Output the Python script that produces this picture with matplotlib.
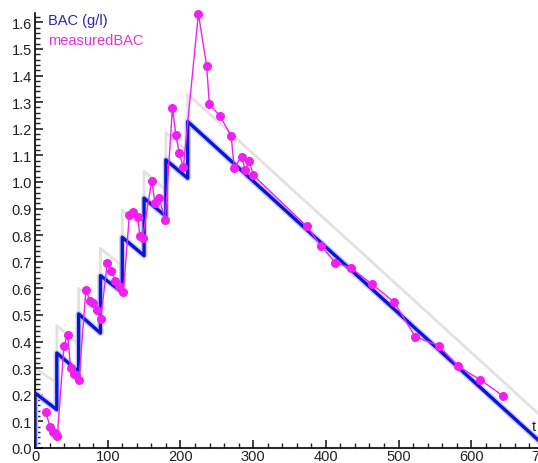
import matplotlib
matplotlib.use("Agg")
import matplotlib.pyplot as plt
from matplotlib.ticker import MultipleLocator

# --- data ---
bac_t = [0, 0, 30, 30, 60, 60, 90, 90, 120, 120, 150, 150, 180, 180, 210, 210, 700]
bac_y = [0, 0.207, 0.144, 0.357, 0.287, 0.504, 0.432, 0.648, 0.585, 0.792,
         0.723, 0.939, 0.871, 1.083, 1.014, 1.227, 0.01]

upper_t = [0, 0, 30, 30, 60, 60, 90, 90, 120, 120, 150, 150, 180, 180, 210, 210, 700]
upper_y = [0, 0.30, 0.245, 0.46, 0.39, 0.60, 0.535, 0.75, 0.685, 0.895,
           0.825, 1.04, 0.97, 1.185, 1.115, 1.33, 0.11]

meas_t = [14.7, 20.6, 24.3, 28.9, 30.7, 39.9, 44.9, 49, 54, 56, 60.5,
          70, 75.6, 79.8, 84.8, 90.3, 99.5, 104.5, 110.5, 116, 121.5,
          129.8, 135, 141, 144.4, 148, 160.5, 165, 171, 179,
          189, 193.7, 198.5, 204, 224.7, 236, 239.8, 254.5, 269.7, 274,
          284, 289, 294.8, 300, 373.7, 393, 413, 434, 463, 494, 523,
          555, 582, 612, 643]
meas_y = [0.136, 0.080, 0.061, 0.053, 0.044, 0.385, 0.426, 0.30, 0.28, 0.275, 0.256,
          0.594, 0.554, 0.545, 0.519, 0.485, 0.697, 0.666, 0.629, 0.608, 0.585,
          0.876, 0.886, 0.867, 0.798, 0.790, 1.005, 0.92, 0.938, 0.856,
          1.277, 1.177, 1.108, 1.055, 1.633, 1.437, 1.293, 1.247, 1.174, 1.054,
          1.095, 1.045, 1.079, 1.026, 0.833, 0.761, 0.697, 0.677, 0.617, 0.548, 0.418,
          0.385, 0.307, 0.257, 0.197]

plt.rcParams['font.family'] = ['Liberation Sans', 'DejaVu Sans']

W, H = 538, 464
fig = plt.figure(figsize=(W / 100, H / 100), dpi=100)
# axes runs past the right edge, like the cropped original
ax = fig.add_axes([35 / W, 15 / H, 509 / W, 435 / H])

ax.plot([0.5, 0.5], [0, 0.3], ls=':', color='#555555', lw=1, zorder=1)
ax.plot(upper_t, upper_y, color='#e2e2e2', lw=2, zorder=1)
ax.plot(bac_t, bac_y, color='#c8ccf2', lw=4.5, zorder=2)
ax.plot(bac_t, bac_y, color='#0a14d8', lw=2.4, zorder=3)
ax.plot(meas_t, meas_y, color='#f020f0', lw=1, marker='o', ms=5.5,
        mec='#f020f0', mfc='#f020f0', zorder=4, clip_on=False)

ax.set_xlim(0, 700)
ax.set_ylim(0, 1.635)

for s in ['top', 'right']:
    ax.spines[s].set_visible(False)
ax.spines['left'].set_linewidth(1.2)
ax.spines['bottom'].set_linewidth(1.2)

ax.xaxis.set_major_locator(MultipleLocator(100))
ax.xaxis.set_minor_locator(MultipleLocator(20))
ax.yaxis.set_major_locator(MultipleLocator(0.1))
ax.yaxis.set_minor_locator(MultipleLocator(0.02))
ax.yaxis.set_major_formatter(plt.FuncFormatter(lambda v, p: f'{v:.1f}'))
ax.tick_params(which='both', direction='in', color='#222222', labelsize=10.5,
               labelcolor='#222222')
ax.tick_params(which='major', length=6, width=1.2)
ax.tick_params(which='minor', length=3.5, width=1)
ax.tick_params(axis='x', pad=1)
ax.tick_params(axis='y', pad=2)

fig.text(48 / W, 1 - 21 / H, 'BAC (g/l)', color='#2828b4', fontsize=10.5, va='center')
fig.text(48 / W, 1 - 41 / H, 'measuredBAC', color='#e030e0', fontsize=10.5, va='center')
fig.text(532 / W, 1 - 427 / H, 't', color='#222222', fontsize=10.5, va='center')

fig.savefig('out.png', dpi=100)
